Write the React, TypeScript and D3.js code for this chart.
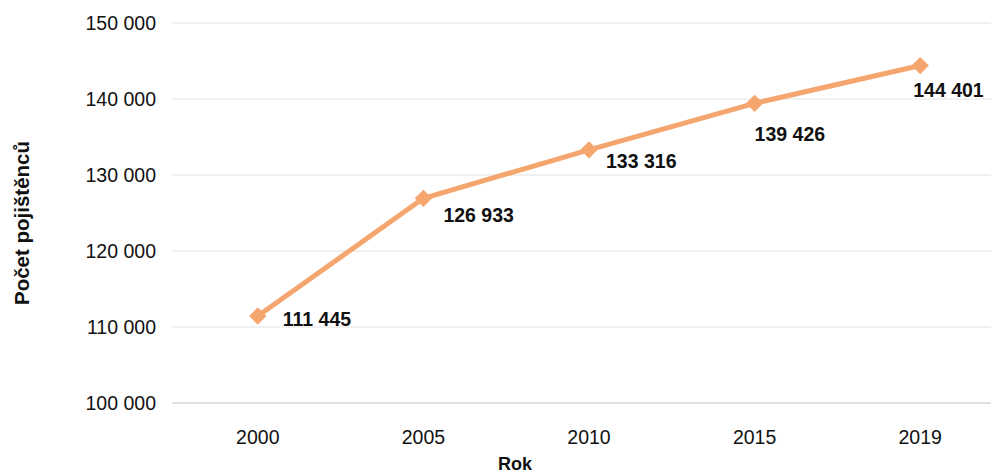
import React from "react";
import * as d3 from "d3";

const years = ["2000", "2005", "2010", "2015", "2019"];
const insured = [111445, 126933, 133316, 139426, 144401];
const yTicks = [100000, 110000, 120000, 130000, 140000, 150000];
const labelOffsets = [
  [25, 10],
  [20, 24],
  [17, 18],
  [0, 38],
  [-7, 31],
];

const W = 991;
const H = 473;
const fmt = (v: number) => d3.format(",")(v).replace(/,/g, " ");

export default function App() {
  const x = d3.scaleBand<string>().domain(years).range([175, 1003]);
  const y = d3.scaleLinear().domain([100000, 150000]).range([403, 23]);
  const cx = (d: string) => (x(d) as number) + x.bandwidth() / 2;
  const line = d3
    .line<number>()
    .x((_, i) => cx(years[i]))
    .y((v) => y(v));
  const font = "Liberation Sans, Arial, sans-serif";
  const diamond = d3.symbol(d3.symbolSquare, 150)() as string;
  return (
    <svg
      width={W}
      height={H}
      style={{ position: "absolute", left: 0, top: 0, background: "#fff" }}
      fontFamily={font}
    >
      {yTicks.map((t) => (
        <g key={t}>
          <line
            x1={172}
            x2={W}
            y1={y(t)}
            y2={y(t)}
            stroke={t === 100000 ? "#e0e0e0" : "#ececec"}
            strokeWidth={t === 100000 ? 2 : 1.5}
          />
          <text x={156} y={y(t)} dy="0.35em" textAnchor="end" fontSize={19.5} fill="#111">
            {fmt(t)}
          </text>
        </g>
      ))}
      {years.map((yr) => (
        <text key={yr} x={cx(yr)} y={444} textAnchor="middle" fontSize={19.5} fill="#111">
          {yr}
        </text>
      ))}
      <path d={line(insured) as string} fill="none" stroke="#f5a56e" strokeWidth={5} strokeLinejoin="round" />
      {insured.map((v, i) => (
        <path key={i} d={diamond} transform={`translate(${cx(years[i])},${y(v)}) rotate(45)`} fill="#f5a56e" />
      ))}
      {insured.map((v, i) => (
        <text
          key={"l" + i}
          x={cx(years[i]) + labelOffsets[i][0]}
          y={y(v) + labelOffsets[i][1]}
          fontSize={19.5}
          fontWeight="bold"
          fill="#111"
        >
          {fmt(v)}
        </text>
      ))}
      <text x={515} y={470} textAnchor="middle" fontSize={18} fontWeight="bold" fill="#111">
        Rok
      </text>
      <text
        transform={`translate(29,${223}) rotate(-90)`}
        textAnchor="middle"
        fontSize={20.5}
        fontWeight="bold"
        fill="#111"
      >
        Počet pojištěnců
      </text>
    </svg>
  );
}
